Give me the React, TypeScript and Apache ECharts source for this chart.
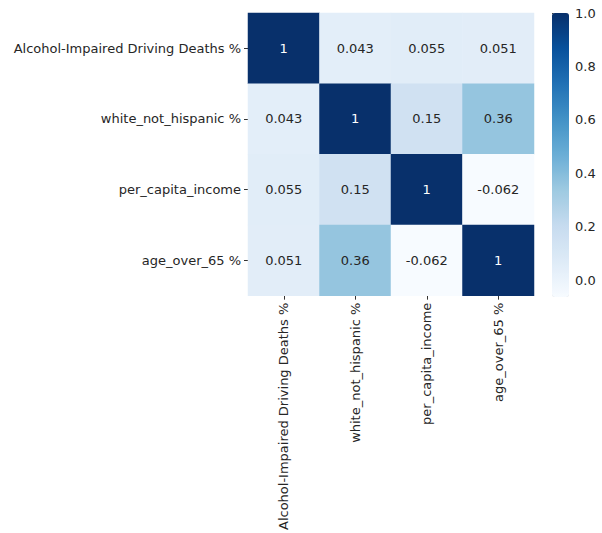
import React, { useEffect, useRef } from "react";
import * as echarts from "echarts";

const categories = [
  "Alcohol-Impaired Driving Deaths %",
  "white_not_hispanic %",
  "per_capita_income",
  "age_over_65 %",
];

const corrRows = [
  [1, 0.043, 0.055, 0.051],
  [0.043, 1, 0.15, 0.36],
  [0.055, 0.15, 1, -0.062],
  [0.051, 0.36, -0.062, 1],
];

const colorbarTicks = [0, 0.2, 0.4, 0.6, 0.8, 1.0];
const valueMin = -0.062;
const valueMax = 1;

const bluesColors = [
  "#f7fbff",
  "#deebf7",
  "#c6dbef",
  "#9ecae1",
  "#6baed6",
  "#4292c6",
  "#2171b5",
  "#08519c",
  "#08306b",
];

const FONT = "DejaVu Sans";
const FS = 13;

export default function App() {
  const ref = useRef<HTMLDivElement>(null);
  useEffect(() => {
    if (!ref.current) return;
    const chart = echarts.init(ref.current, null, { renderer: "svg" });
    const data: any[] = [];
    corrRows.forEach((row, yi) => {
      row.forEach((v, xi) => {
        const frac = (v - valueMin) / (valueMax - valueMin);
        data.push({
          value: [xi, yi, v],
          label: { color: frac > 0.6 ? "#ffffff" : "#262626" },
        });
      });
    });
    const left = 248;
    const top = 13;
    const w = 286;
    const h = 284;
    const cbLeft = 552;
    chart.setOption({
      animation: false,
      backgroundColor: "#ffffff",
      textStyle: { fontFamily: FONT },
      grid: [
        { left, top, width: w, height: h, containLabel: false },
        { left: cbLeft, top, width: 17, height: h, containLabel: false },
      ],
      xAxis: [
        {
          type: "category",
          gridIndex: 0,
          data: categories,
          position: "bottom",
          axisLine: { show: false },
          axisTick: { show: true, alignWithLabel: true, length: 4, lineStyle: { color: "#333" } },
          axisLabel: {
            rotate: 90,
            interval: 0,
            fontSize: FS,
            fontFamily: FONT,
            color: "#262626",
            margin: 7,
          },
          splitLine: { show: false },
        },
        { type: "value", gridIndex: 1, show: false, min: 0, max: 1 },
      ],
      yAxis: [
        {
          type: "category",
          gridIndex: 0,
          data: categories,
          inverse: true,
          axisLine: { show: false },
          axisTick: { show: true, alignWithLabel: true, length: 4, lineStyle: { color: "#333" } },
          axisLabel: {
            interval: 0,
            fontSize: FS,
            fontFamily: FONT,
            color: "#262626",
            margin: 7,
          },
          splitLine: { show: false },
        },
        {
          type: "value",
          gridIndex: 1,
          min: valueMin,
          max: valueMax,
          position: "right",
          axisLine: { show: false },
          splitLine: { show: false },
          axisTick: {
            show: true,
            length: 4,
            lineStyle: { color: "#333" },
            customValues: colorbarTicks,
          },
          axisLabel: {
            fontSize: FS,
            fontFamily: FONT,
            color: "#262626",
            margin: 6,
            customValues: colorbarTicks,
            formatter: (v: number) => v.toFixed(1),
          },
        },
      ],
      visualMap: {
        type: "continuous",
        min: valueMin,
        max: valueMax,
        calculable: false,
        orient: "vertical",
        left: cbLeft,
        top,
        padding: 0,
        itemWidth: 17,
        itemHeight: h,
        showLabel: false,
        seriesIndex: 0,
        inRange: { color: bluesColors },
      },
      series: [
        {
          type: "heatmap",
          xAxisIndex: 0,
          yAxisIndex: 0,
          data,
          label: {
            show: true,
            fontSize: FS,
            fontFamily: FONT,
            formatter: (p: any) => String(p.value[2]),
          },
          itemStyle: { borderWidth: 0 },
          emphasis: { disabled: true },
        },
      ],
    });
    return () => chart.dispose();
  }, []);
  return (
    <div
      ref={ref}
      style={{ position: "absolute", left: 0, top: 0, width: 602, height: 533 }}
    />
  );
}
